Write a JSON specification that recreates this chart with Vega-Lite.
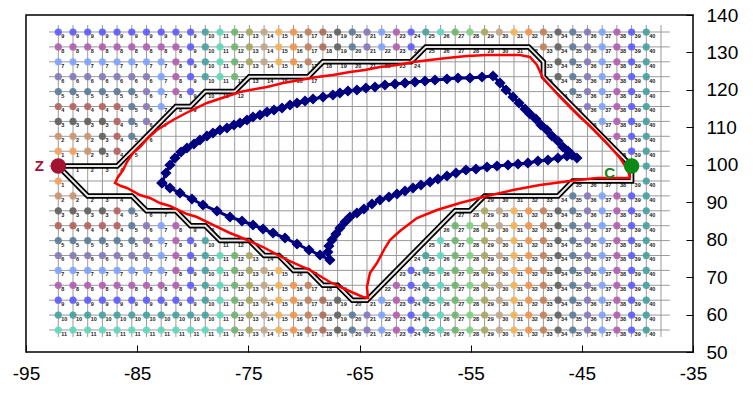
{
"$schema":"https://vega.github.io/schema/vega-lite/v6.json",
"width":667,"height":337,"autosize":"none",
"padding":{"left":26,"top":15,"right":60,"bottom":42},
"background":"white",
"config":{"view":{"stroke":"black","strokeWidth":1.5},"font":"Liberation Sans"},
"datasets":{
"vk":[{"k":[1,2,3,4,5,6,7,8,9,10,11,12,13,14,15,16,17,18,19,20,21,22,23,24,25,26,27,28,29,30,31,32,33,34,35,36,37,38,39,40,41,42]}],
"hr":[{"r":[0,1,2,3,4,5,6,7,8,9,10,11,12,13,14,15,16,17,18,19,20]}],
"cells":[
{"t":"o","r":0,"k":[1,2,3,4,5,6,7,8,9,10,11,12,13,14,15,16,17,18,19,20,21,22,23,24,25,26,27,28,29,30,31,32,33,34,35,36,37,38,39,40,41],"n":[9,9,9,9,9,9,9,9,9,9,10,11,12,13,14,15,16,17,18,19,20,21,22,23,24,25,26,27,28,29,30,31,32,33,34,35,36,37,38,39,40]},
{"t":"o","r":1,"k":[1,2,3,4,5,6,7,8,9,10,11,12,13,14,15,16,17,18,19,20,21,22,23,24,25,34,35,36,37,38,39,40,41],"n":[8,8,8,8,8,8,8,8,8,9,10,11,12,13,14,15,16,17,18,19,20,21,22,23,24,33,34,35,36,37,38,39,40]},
{"t":"b","r":1,"k":[26,27,28,29,30,31,32,33],"n":[25,26,27,28,29,30,31,32]},
{"t":"o","r":2,"k":[1,2,3,4,5,6,7,8,9,10,11,12,13,14,15,16,17,18,35,36,37,38,39,40,41],"n":[7,7,7,7,7,7,7,7,8,9,10,11,12,13,14,15,16,17,34,35,36,37,38,39,40]},
{"t":"b","r":2,"k":[19,20,21,22,23,24,25,34],"n":[18,19,20,21,22,23,24,33]},
{"t":"o","r":3,"k":[1,2,3,4,5,6,7,8,9,10,11,12,13,35,36,37,38,39,40,41],"n":[6,6,6,6,6,6,6,7,8,9,10,11,12,34,35,36,37,38,39,40]},
{"t":"b","r":3,"k":[14,15,16,17,18,34],"n":[13,14,15,16,17,33]},
{"t":"o","r":4,"k":[1,2,3,4,5,6,7,8,9,10,36,37,38,39,40,41],"n":[5,5,5,5,5,5,6,7,8,9,35,36,37,38,39,40]},
{"t":"b","r":4,"k":[11,12,13,35],"n":[10,11,12,34]},
{"t":"o","r":5,"k":[1,2,3,4,5,6,7,8,37,38,39,40,41],"n":[4,4,4,4,4,5,6,7,36,37,38,39,40]},
{"t":"b","r":5,"k":[9,10,36],"n":[8,9,35]},
{"t":"o","r":6,"k":[1,2,3,4,5,6,7,38,39,40,41],"n":[3,3,3,3,4,5,6,37,38,39,40]},
{"t":"b","r":6,"k":[8,37],"n":[7,36]},
{"t":"o","r":7,"k":[1,2,3,4,5,6,39,40,41],"n":[2,2,2,3,4,5,38,39,40]},
{"t":"b","r":7,"k":[7,38],"n":[6,37]},
{"t":"o","r":8,"k":[1,2,3,4,5,40,41],"n":[1,1,2,3,4,39,40]},
{"t":"b","r":8,"k":[6,39],"n":[5,38]},
{"t":"o","r":9,"k":[41],"n":[40]},
{"t":"b","r":9,"k":[2,3,4,5],"n":[1,2,3,4]},
{"t":"o","r":10,"k":[1,41],"n":[1,40]},
{"t":"b","r":10,"k":[2,36,37,38,39,40],"n":[1,35,36,37,38,39]},
{"t":"o","r":11,"k":[1,2,36,37,38,39,40,41],"n":[2,2,35,36,37,38,39,40]},
{"t":"b","r":11,"k":[3,4,5,6,30,31,32,33,34,35],"n":[2,3,4,5,29,30,31,32,33,34]},
{"t":"o","r":12,"k":[1,2,3,4,5,6,30,31,32,33,34,35,36,37,38,39,40,41],"n":[3,3,3,3,4,5,29,30,31,32,33,34,35,36,37,38,39,40]},
{"t":"b","r":12,"k":[7,8,9,28,29],"n":[6,7,8,27,28]},
{"t":"o","r":13,"k":[1,2,3,4,5,6,7,8,9,28,29,30,31,32,33,34,35,36,37,38,39,40,41],"n":[4,4,4,4,4,5,6,7,8,27,28,29,30,31,32,33,34,35,36,37,38,39,40]},
{"t":"b","r":13,"k":[10,11,27],"n":[9,10,26]},
{"t":"o","r":14,"k":[1,2,3,4,5,6,7,8,9,10,11,27,28,29,30,31,32,33,34,35,36,37,38,39,40,41],"n":[5,5,5,5,5,5,6,7,8,9,10,26,27,28,29,30,31,32,33,34,35,36,37,38,39,40]},
{"t":"b","r":14,"k":[12,13,14,26],"n":[11,12,13,25]},
{"t":"o","r":15,"k":[1,2,3,4,5,6,7,8,9,10,11,12,13,14,26,27,28,29,30,31,32,33,34,35,36,37,38,39,40,41],"n":[6,6,6,6,6,6,6,7,8,9,10,11,12,13,25,26,27,28,29,30,31,32,33,34,35,36,37,38,39,40]},
{"t":"b","r":15,"k":[15,16,25],"n":[14,15,24]},
{"t":"o","r":16,"k":[1,2,3,4,5,6,7,8,9,10,11,12,13,14,15,16,25,26,27,28,29,30,31,32,33,34,35,36,37,38,39,40,41],"n":[7,7,7,7,7,7,7,7,8,9,10,11,12,13,14,15,24,25,26,27,28,29,30,31,32,33,34,35,36,37,38,39,40]},
{"t":"b","r":16,"k":[17,18,24],"n":[16,17,23]},
{"t":"o","r":17,"k":[1,2,3,4,5,6,7,8,9,10,11,12,13,14,15,16,17,18,24,25,26,27,28,29,30,31,32,33,34,35,36,37,38,39,40,41],"n":[8,8,8,8,8,8,8,8,8,9,10,11,12,13,14,15,16,17,23,24,25,26,27,28,29,30,31,32,33,34,35,36,37,38,39,40]},
{"t":"b","r":17,"k":[19,20,23],"n":[18,19,22]},
{"t":"o","r":18,"k":[1,2,3,4,5,6,7,8,9,10,11,12,13,14,15,16,17,18,19,20,23,24,25,26,27,28,29,30,31,32,33,34,35,36,37,38,39,40,41],"n":[9,9,9,9,9,9,9,9,9,9,10,11,12,13,14,15,16,17,18,19,22,23,24,25,26,27,28,29,30,31,32,33,34,35,36,37,38,39,40]},
{"t":"b","r":18,"k":[21,22],"n":[20,21]},
{"t":"o","r":19,"k":[1,2,3,4,5,6,7,8,9,10,11,12,13,14,15,16,17,18,19,20,21,22,23,24,25,26,27,28,29,30,31,32,33,34,35,36,37,38,39,40,41],"n":[10,10,10,10,10,10,10,10,10,10,10,11,12,13,14,15,16,17,18,19,20,21,22,23,24,25,26,27,28,29,30,31,32,33,34,35,36,37,38,39,40]},
{"t":"o","r":20,"k":[1,2,3,4,5,6,7,8,9,10,11,12,13,14,15,16,17,18,19,20,21,22,23,24,25,26,27,28,29,30,31,32,33,34,35,36,37,38,39,40,41],"n":[11,11,11,11,11,11,11,11,11,11,11,11,12,13,14,15,16,17,18,19,20,21,22,23,24,25,26,27,28,29,30,31,32,33,34,35,36,37,38,39,40]}
],
"corr":[{"i":[0,1,2,3,4,5,6,7,8,9,10,11,12,13,14,15,16,17,18,19,20,21,22,23,24,25,26,27,28,29,30,31,32,33,34,35,36,37],
"k":[1,5,9,10,11,13,14,18,19,25,26,33,34,34,40,40,36,35,30,29,28,22,21,20,19,18,17,16,15,14,12,11,10,9,7,6,3,1],
"r":[9,9,5,5,4,4,3,3,2,2,1,1,2,3,9,10,10,11,11,12,12,18,18,17,17,16,16,15,15,14,14,13,13,12,12,11,11,9]}],
"marks":[{"k":1,"r":9,"name":"Z"},{"k":40,"r":9,"name":"C"}],
"red":[{"i":[0,1,2,3,4,5,6,7,8,9,10,11,12,13,14,15,16,17,18,19,20,21,22,23,24,25,26,27,28,29,30,31,32,33,34,35,36,37,38,39,40,41,42,43,44,45,46,47,48,49,50,51,52,53,54,55,56,57,58,59,60,61,62,63,64,65,66,67,68,69,70,71,72,73,74,75,76,77],
"x":[-40.67,-40.85,-41.57,-42.20,-42.92,-43.64,-44.45,-45.17,-46.07,-46.97,-47.78,-48.50,-49.04,-49.67,-50.56,-51.91,-53.53,-55.33,-57.13,-58.66,-60.19,-61.63,-63.16,-64.51,-65.86,-67.39,-68.82,-70.35,-71.88,-73.32,-74.85,-75.75,-77.10,-78.72,-80.25,-81.78,-83.22,-84.03,-84.75,-85.38,-85.92,-86.27,-86.72,-86.99,-86.45,-85.92,-84.75,-83.85,-82.95,-82.05,-80.52,-79.62,-78.18,-76.65,-75.75,-73.68,-71.52,-69.45,-67.66,-66.13,-64.69,-64.24,-64.33,-64.06,-63.43,-62.71,-62.26,-61.36,-59.83,-58.03,-55.96,-53.89,-51.19,-48.77,-46.07,-43.64,-41.57,-40.67],
"y":[96.47,98.60,101.81,103.95,106.35,108.49,110.89,112.76,115.43,118.10,120.77,123.17,126.65,128.78,129.32,129.32,129.32,129.05,128.52,127.98,127.45,126.65,126.11,125.31,124.78,123.98,123.44,122.64,121.84,120.77,119.97,119.44,118.10,116.50,114.36,111.96,109.29,107.15,104.75,103.14,100.74,98.60,96.73,95.13,94.33,93.80,91.93,91.13,89.79,88.99,86.85,86.05,83.92,81.78,80.71,78.04,74.57,71.90,68.69,66.56,64.69,64.42,67.36,71.10,73.77,77.77,79.91,82.31,85.78,87.92,89.79,91.39,93.26,94.60,95.67,96.47,96.47,96.47]}],
"blue":[{"i":[0,1,2,3,4,5,6,7,8,9,10,11,12,13,14,15,16,17,18,19,20,21,22,23,24,25,26,27,28,29,30,31,32,33,34,35,36,37,38,39,40,41,42,43,44,45,46,47,48,49,50,51,52,53,54,55,56,57,58,59,60,61,62,63,64,65,66,67,68,69,70,71,72,73,74,75,76,77,78,79,80,81,82,83,84,85,86,87,88,89,90,91,92,93,94,95,96,97,98,99,100,101,102,103,104,105,106,107,108,109,110,111,112],
"x":[-82.77,-82.41,-82.05,-81.60,-81.06,-80.52,-79.89,-79.35,-78.72,-78.18,-77.55,-76.92,-76.29,-75.75,-75.12,-74.58,-73.95,-73.32,-72.69,-71.97,-71.25,-70.62,-69.90,-69.18,-68.28,-67.39,-66.76,-66.04,-65.23,-64.42,-63.61,-62.71,-61.81,-60.91,-60.01,-59.11,-58.21,-57.13,-56.14,-55.06,-53.98,-52.99,
-52.36,-51.82,-51.19,-50.65,-50.11,-49.67,-49.13,-48.68,-48.14,-47.69,-47.15,-46.70,-46.25,-45.89,-45.44,
-46.34,-47.15,-48.05,-48.95,-49.85,-50.74,-51.64,-52.63,-53.53,-54.52,-55.42,-56.32,-57.13,-57.94,-58.66,-59.47,-60.19,-60.91,-61.63,-62.35,-63.16,-63.88,-64.60,-65.23,-65.86,-66.31,-66.76,-67.12,-67.48,-67.75,-67.84,-67.66,
-68.55,-69.54,-70.62,-71.70,-72.78,-73.68,-74.58,-75.57,-76.65,-77.82,-79.08,-80.07,-81.15,-82.05,-82.77],
"y":[95.13,97.80,99.94,101.81,103.41,104.48,105.55,106.62,107.68,108.49,109.29,109.82,110.62,111.16,111.96,112.76,113.29,114.09,114.63,115.16,115.96,116.50,117.03,117.57,118.10,118.63,119.17,119.70,119.97,120.50,120.77,121.30,121.57,121.84,122.11,122.37,122.64,122.91,123.17,123.17,123.44,123.71,
121.84,119.97,118.10,116.50,114.90,113.56,112.22,110.62,109.29,107.68,106.35,104.75,103.68,102.61,101.81,
102.34,101.81,101.27,101.01,100.47,100.21,99.94,99.67,99.41,98.87,98.61,97.80,97.00,96.20,95.40,94.60,93.80,93.00,92.19,91.39,90.59,89.52,88.19,87.12,86.05,84.72,83.11,81.51,79.91,78.31,76.70,74.57,
75.90,77.24,78.84,80.44,81.78,82.85,83.92,84.98,86.05,87.65,89.26,90.86,92.46,93.80,95.13]}]
},
"layer":[
{"layer":[
 {"data":{"name":"vk"},"transform":[{"flatten":["k"]}],"mark":{"type":"rule","color":"#9a9a9a","strokeWidth":1},
  "encoding":{"x":{"field":"k","type":"quantitative","scale":{"domain":[-1.1973,44.177],"nice":false,"zero":false},"axis":null},
   "y":{"datum":-0.47,"type":"quantitative","scale":{"domain":[-1.141,21.477],"reverse":true,"nice":false,"zero":false},"axis":null},"y2":{"datum":20.47}}},
 {"data":{"name":"hr"},"transform":[{"flatten":["r"]}],"mark":{"type":"rule","color":"#9a9a9a","strokeWidth":1},
  "encoding":{"y":{"field":"r","type":"quantitative","axis":null},"x":{"datum":0.37,"type":"quantitative","axis":null},"x2":{"datum":42.6}}},
 {"data":{"name":"cells"},"transform":[{"flatten":["k","n"]},{"filter":"datum.t=='o'"}],"mark":{"type":"point","shape":"circle","filled":true,"size":52,"opacity":0.9},
  "encoding":{"x":{"field":"k","type":"quantitative","axis":null},"y":{"field":"r","type":"quantitative","axis":null},
   "color":{"field":"n","type":"ordinal","legend":null,"scale":{"domain":[1,2,3,4,5,6,7,8,9,10,11,12,13,14,15,16,17,18,19,20,21,22,23,24,25,26,27,28,29,30,31,32,33,34,35,36,37,38,39,40],
    "range":["#f4a05c","#c99470","#5e5e5e","#b2625e","#5a7b99","#8478b8","#7ea2ff","#b05db0","#5b5bff","#46a0a0","#5ed8bc","#6db46d","#a6a660","#c0a688","#f2b458","#f0944e","#c0805c","#aa6e5a","#606060","#5a7b99","#8478b8","#7ea2ff","#b05db0","#5b5bff","#46a0a0","#5ed8bc","#6db46d","#80d080","#a6a660","#c0a688","#f2b458","#f0944e","#c0805c","#606060","#5a7b99","#8478b8","#7ea2ff","#b05db0","#5b5bff","#46a0a0"]}}}},
 {"data":{"name":"cells"},"transform":[{"flatten":["k","n"]}],"mark":{"type":"text","fontSize":5.5,"fontWeight":"bold","color":"#222","align":"left","baseline":"middle","dx":3,"dy":4},
  "encoding":{"x":{"field":"k","type":"quantitative","axis":null},"y":{"field":"r","type":"quantitative","axis":null},"text":{"field":"n"}}},
 {"data":{"name":"corr"},"transform":[{"flatten":["i","k","r"]}],"mark":{"type":"line","color":"black","strokeWidth":5.5,"strokeJoin":"miter"},
  "encoding":{"x":{"field":"k","type":"quantitative","axis":null},"y":{"field":"r","type":"quantitative","axis":null},"order":{"field":"i"}}},
 {"data":{"name":"corr"},"transform":[{"flatten":["i","k","r"]}],"mark":{"type":"line","color":"#e6e6e6","strokeWidth":2,"strokeJoin":"miter"},
  "encoding":{"x":{"field":"k","type":"quantitative","axis":null},"y":{"field":"r","type":"quantitative","axis":null},"order":{"field":"i"}}}
]},
{"layer":[
 {"data":{"name":"red"},"transform":[{"flatten":["i","x","y"]}],"mark":{"type":"line","color":"#ff0000","strokeWidth":2.5},
  "encoding":{"x":{"field":"x","type":"quantitative","scale":{"domain":[-95,-35],"nice":false,"zero":false},
    "axis":{"orient":"bottom","values":[-95,-85,-75,-65,-55,-45,-35],"labelExpr":"'' + datum.value","grid":false,"domain":false,"tickSize":-7,"tickColor":"black","tickWidth":1,"labelFontSize":19,"labelColor":"black","labelPadding":19,"title":null,"labelFlush":false,"labelOverlap":false}},
   "y":{"field":"y","type":"quantitative","scale":{"domain":[50,140],"nice":false,"zero":false},
    "axis":{"orient":"right","values":[50,60,70,80,90,100,110,120,130,140],"labelExpr":"'' + datum.value","grid":false,"domain":false,"tickSize":-7,"tickColor":"black","tickWidth":1,"labelFontSize":19,"labelColor":"black","labelPadding":20,"title":null,"labelFlush":false,"labelOverlap":false}},
   "order":{"field":"i"}}},
 {"data":{"name":"blue"},"transform":[{"flatten":["i","x","y"]}],"mark":{"type":"line","color":"#00007f","strokeWidth":3,"point":{"shape":"diamond","size":125,"filled":true,"color":"#00007f"}},
  "encoding":{"x":{"field":"x","type":"quantitative",
    "axis":{"orient":"bottom","values":[-95,-85,-75,-65,-55,-45,-35],"labelExpr":"'' + datum.value","grid":false,"domain":false,"tickSize":-7,"tickColor":"black","tickWidth":1,"labelFontSize":19,"labelColor":"black","labelPadding":19,"title":null,"labelFlush":false,"labelOverlap":false}},
   "y":{"field":"y","type":"quantitative",
    "axis":{"orient":"right","values":[50,60,70,80,90,100,110,120,130,140],"labelExpr":"'' + datum.value","grid":false,"domain":false,"tickSize":-7,"tickColor":"black","tickWidth":1,"labelFontSize":19,"labelColor":"black","labelPadding":20,"title":null,"labelFlush":false,"labelOverlap":false}},
   "order":{"field":"i"}}}
]},
{"layer":[
 {"data":{"name":"marks"},"mark":{"type":"point","shape":"circle","filled":true,"size":240,"opacity":1},
  "encoding":{"x":{"field":"k","type":"quantitative","scale":{"domain":[-1.1973,44.177],"nice":false,"zero":false},"axis":null},
   "y":{"field":"r","type":"quantitative","scale":{"domain":[-1.141,21.477],"reverse":true,"nice":false,"zero":false},"axis":null},
   "color":{"field":"name","type":"nominal","legend":null,"scale":{"domain":["Z","C"],"range":["#a3122e","#0a8a14"]}}}},
 {"data":{"name":"marks"},"transform":[{"filter":"datum.name=='Z'"}],"mark":{"type":"text","fontSize":15,"fontWeight":"bold","color":"#a3122e","dx":-19,"dy":0},
  "encoding":{"x":{"field":"k","type":"quantitative","axis":null},"y":{"field":"r","type":"quantitative","axis":null},"text":{"field":"name"}}},
 {"data":{"name":"marks"},"transform":[{"filter":"datum.name=='C'"}],"mark":{"type":"text","fontSize":15,"fontWeight":"bold","color":"#0a8a14","dx":-22,"dy":7},
  "encoding":{"x":{"field":"k","type":"quantitative","axis":null},"y":{"field":"r","type":"quantitative","axis":null},"text":{"field":"name"}}}
]}
],
"resolve":{"scale":{"x":"independent","y":"independent","color":"independent"}}
}
